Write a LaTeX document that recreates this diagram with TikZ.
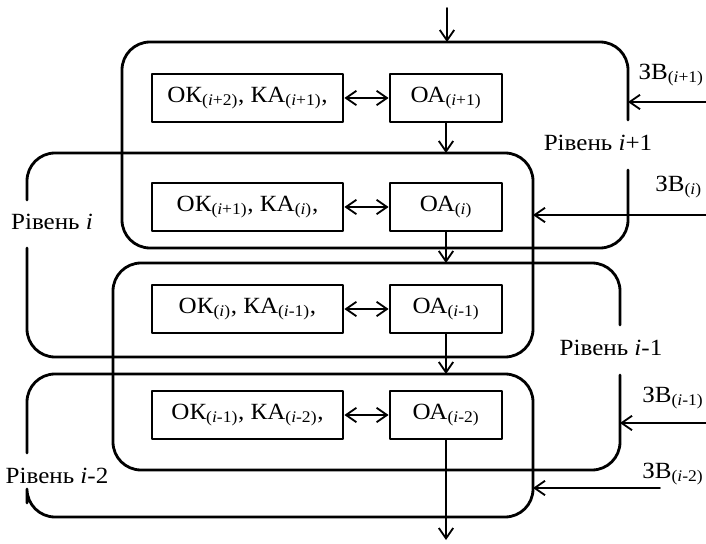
\documentclass[tikz,border=0pt]{standalone}
\usepackage{fontspec}
\setmainfont[FakeStretch=1.08]{Liberation Serif}
\usetikzlibrary{arrows.meta}
\newcommand{\idx}[1]{\textsubscript{(#1)}}
\newcommand{\ii}{\textit{i}}
\begin{document}
\begin{tikzpicture}[x=0.25mm, y=-0.25mm, font=\fontsize{16.5}{19}\selectfont,
    line cap=round, line join=round,
    frame/.style={line width=2pt, rounded corners=7mm},
    unitbox/.style={draw, line width=2pt, minimum height=12mm, inner sep=0pt},
    okbox/.style={unitbox, minimum width=47.75mm},
    oabox/.style={unitbox, minimum width=28mm},
    arr/.style={line width=1.3pt, -{Straight Barb[length=2.6mm, width=3.6mm]}},
    dbl/.style={line width=1.3pt, {Straight Barb[length=2.6mm, width=3.6mm]}-{Straight Barb[length=2.6mm, width=3.6mm]}},
    lvl/.style={inner sep=1pt}]
  \useasboundingbox (0,0) rectangle (706,544);
  % levels: each frame left open where its label sits
  \draw[frame] (628,170) -- (628,248) -- (122,248) -- (122,42) -- (628,42) -- (628,120);
  \draw[frame] (27,200) -- (27,153) -- (533,153) -- (533,357) -- (27,357) -- (27,248);
  \draw[frame] (620,375) -- (620,470) -- (113,470) -- (113,263) -- (620,263) -- (620,325);
  \draw[frame] (27,453) -- (27,374) -- (533,374) -- (533,517) -- (27,517) -- (27,503);
  \node[lvl] (lvl1) at (598,143) {Рівень \ii+1};
  \node[lvl] (lvl2) at (52,222) {Рівень \ii};
  \node[lvl] (lvl3) at (611,348) {Рівень \ii-1};
  \node[lvl] (lvl4) at (57,476) {Рівень \ii-2};
  % units of each level
  \node[okbox] (ok1) at (247.5,98) {ОК\idx{\ii+2}, КА\idx{\ii+1},};
  \node[oabox] (oa1) at (446,98) {ОА\idx{\ii+1}};
  \node[okbox] (ok2) at (247.5,207) {ОК\idx{\ii+1}, КА\idx{\ii},};
  \node[oabox] (oa2) at (446,207) {ОА\idx{\ii}};
  \node[okbox] (ok3) at (247.5,309) {ОК\idx{\ii}, КА\idx{\ii-1},};
  \node[oabox] (oa3) at (446,309) {ОА\idx{\ii-1}};
  \node[okbox] (ok4) at (247.5,415) {ОК\idx{\ii-1}, КА\idx{\ii-2},};
  \node[oabox] (oa4) at (446,415) {ОА\idx{\ii-2}};
  \foreach \n in {1,...,4}
    \draw[dbl] (ok\n) -- (oa\n);
  % vertical flow
  \coordinate (in) at (447,8);
  \coordinate (inend) at (447,42);
  \coordinate (top2) at (0,153);
  \coordinate (top3) at (0,263);
  \coordinate (top4) at (0,374);
  \coordinate (out) at (0,540);
  \draw[arr] (in) -- (inend);
  \draw[arr] (oa1) -- (oa1 |- top2);
  \draw[arr] (oa2) -- (oa2 |- top3);
  \draw[arr] (oa3) -- (oa3 |- top4);
  \draw[arr] (oa4) -- (oa4 |- out);
  % external inputs
  \node[anchor=east, inner sep=0pt] (zv1) at (704,75) {ЗВ\idx{\ii+1}};
  \node[anchor=west, inner sep=0pt] (zv2) at (655,187) {ЗВ\idx{\ii}};
  \node[anchor=west, inner sep=0pt] (zv3) at (642,398) {ЗВ\idx{\ii-1}};
  \node[anchor=west, inner sep=0pt] (zv4) at (642,474) {ЗВ\idx{\ii-2}};
  \coordinate (zv1s) at (706,102); \coordinate (zv1e) at (628,102);
  \coordinate (zv2s) at (706,215); \coordinate (zv2e) at (533,215);
  \coordinate (zv3s) at (706,423); \coordinate (zv3e) at (620,423);
  \coordinate (zv4s) at (660,488); \coordinate (zv4e) at (533,488);
  \foreach \n in {1,...,4}
    \draw[arr] (zv\n s) -- (zv\n e);
\end{tikzpicture}
\end{document}
